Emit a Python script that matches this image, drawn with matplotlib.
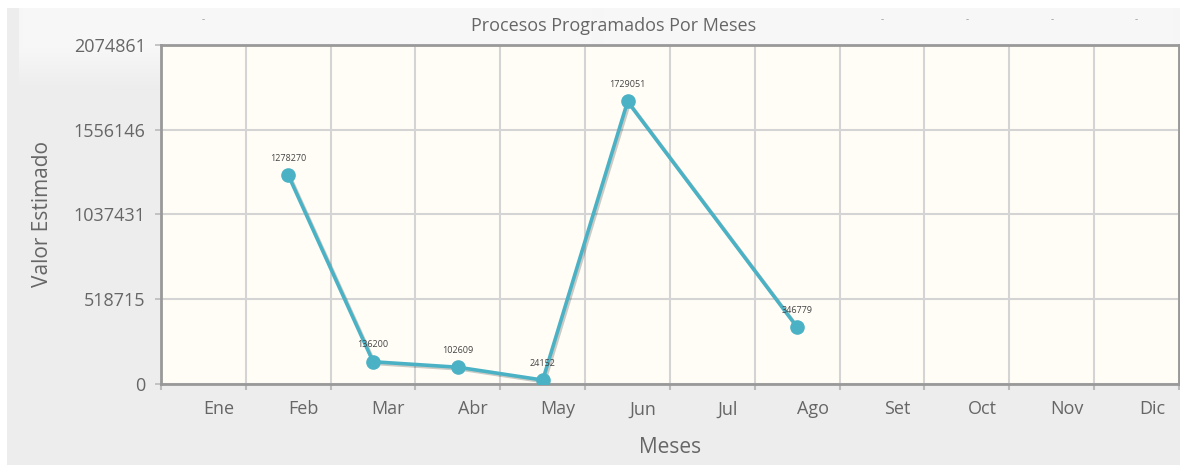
import matplotlib
matplotlib.use("Agg")
import matplotlib.pyplot as plt
import matplotlib.patheffects as pe
from matplotlib.patches import Rectangle
from matplotlib.colors import LinearSegmentedColormap
import numpy as np

# datos
meses = ["Ene", "Feb", "Mar", "Abr", "May", "Jun", "Jul", "Ago", "Set", "Oct", "Nov", "Dic"]
valores = [None, 1278270, 136200, 102609, 24152, 1729051, None, 346779, None, None, None, None]
marcas_vacias = ["Ene", "Set", "Oct", "Nov", "Dic"]
y_ticks = [0, 518715, 1037431, 1556146, 2074861]

titulo = "Procesos Programados Por Meses"
eje_x = "Meses"
eje_y = "Valor Estimado"

plt.rcParams["font.family"] = ["Open Sans", "DejaVu Sans"]

W, H = 1180, 465
fig = plt.figure(figsize=(W / 100, H / 100), dpi=100, facecolor="white")

# fondo del contenedor
fig.patches.append(Rectangle((7 / W, 0), 1 - 7 / W, 1 - 8 / H, transform=fig.transFigure,
                             facecolor="#ededed", edgecolor="none", zorder=-3))
grad = fig.add_axes([19 / W, 1 - 90 / H, 1 - 19 / W, 82 / H], zorder=-2)
g = np.zeros((82, 2))
g[40:, :] = np.linspace(0, 1, 42)[:, None]
grad.imshow(g, aspect="auto", cmap=LinearSegmentedColormap.from_list("g", ["#f7f7f7", "#ededed"]),
            vmin=0, vmax=1, extent=(0, 1, 0, 1), interpolation="bilinear")
grad.axis("off")

ax = fig.add_axes([161 / W, 1 - 384 / H, (1179 - 161) / W, (384 - 45) / H])
ax.set_facecolor("#fffdf6")

x = [i for i, v in enumerate(valores) if v is not None]
y = [v for v in valores if v is not None]

ax.plot(x, y, color="#4bb2c5", lw=2.6, zorder=5,
        path_effects=[pe.SimpleLineShadow(offset=(1.2, -1.2), alpha=0.2, shadow_color="black"),
                      pe.Normal()])
ax.plot(x, y, ls="none", color="#4bb2c5", marker="o", ms=9.5, zorder=6)

for xi, yi in zip(x, y):
    ax.annotate(str(yi), (xi, yi), xytext=(0, 9), textcoords="offset points",
                ha="center", va="bottom", fontsize=6.5, color="#444444", zorder=7)

ax.set_xlim(-0.5, len(meses) - 0.5)
ax.set_ylim(y_ticks[0], y_ticks[-1])
ax.set_xticks(np.arange(-0.5, len(meses), 1.0))
ax.set_xticklabels([])
ax.set_yticks(y_ticks)
ax.set_yticklabels([str(t) for t in y_ticks], fontsize=13, color="#666666")
ax.tick_params(axis="x", length=4, width=1.5, color="#bbbbbb")
ax.tick_params(axis="y", length=4, width=1.2, color="#bbbbbb", pad=7)
ax.grid(True, color="#d4d4d4", lw=1.5, zorder=0)
for s in ax.spines.values():
    s.set_color("#999999")
    s.set_linewidth(2)

for i, m in enumerate(meses):
    ax.text(i + 0.18, -0.075, m, transform=ax.get_xaxis_transform(), ha="center", va="center",
            fontsize=13, color="#666666")
    if m in marcas_vacias:
        fig.text(ax.transData.transform((i, 0))[0] / W, 1 - 20 / H, "-", ha="center",
                 va="center", fontsize=7, color="#999999")

fig.text(614 / W, 1 - 26 / H, titulo, ha="center", va="center",
         fontsize=13, color="#666666")
fig.text(670 / W, 1 - 447 / H, eje_x, ha="center", va="center", fontsize=15, color="#666666")
fig.text(43 / W, 1 - 214 / H, eje_y, ha="center", va="center", rotation=90,
         fontsize=15, color="#666666")

fig.savefig("out.png", dpi=100, facecolor=fig.get_facecolor())
